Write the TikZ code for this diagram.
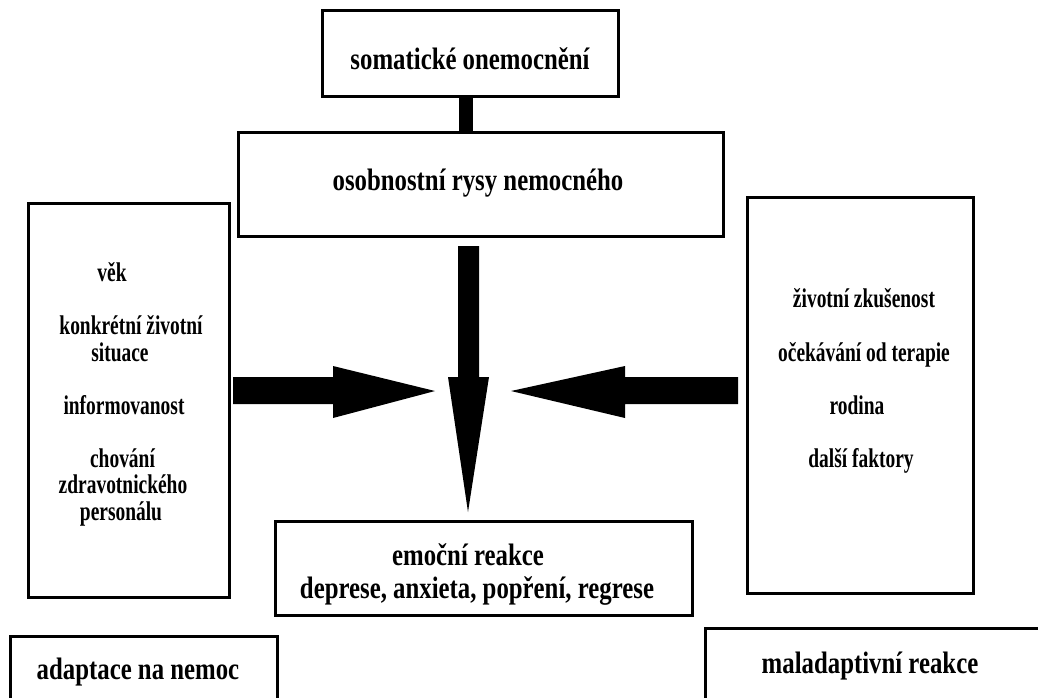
\documentclass[tikz,border=0pt]{standalone}
\usepackage{fontspec}
\newfontfamily\mainf{Liberation Serif}[FakeStretch=0.8]
\newfontfamily\sidef{Liberation Serif}[FakeStretch=0.72]
\begin{document}
\begin{tikzpicture}[x=1pt,y=-1pt,
  box/.style={draw, line width=3pt, inner sep=0pt},
  maintxt/.style={inner sep=0pt, anchor=base, font=\mainf\bfseries\fontsize{31}{34}\selectfont},
  sidetxt/.style={inner sep=0pt, anchor=base, font=\sidef\bfseries\fontsize{27}{27}\selectfont},
  fatarrow/.style={fill=black}]
\useasboundingbox (0,0) rectangle (1038,697);
\clip (0,0) rectangle (1038,697);
\fill[white] (0,0) rectangle (1038,697);

% boxes
\node[box, minimum width=296pt, minimum height=86pt] (som) at (470,53) {};
\node[maintxt] (somt) at (470,69) {somatické onemocnění};
\node[box, minimum width=485pt, minimum height=104pt] (osob) at (480.5,184) {};
\node[maintxt] (osobt) at (478,190) {osobnostní rysy nemocného};
\node[box, minimum width=201pt, minimum height=394pt] (left) at (128.5,400) {};
\node[box, minimum width=226pt, minimum height=396pt] (right) at (860,395) {};
\node[box, minimum width=417pt, minimum height=94pt] (emo) at (483.5,568) {};
\node[maintxt] (emot1) at (468,565) {emoční reakce};
\node[maintxt] (emot2) at (477,598) {deprese, anxieta, popření, regrese};
\node[box, minimum width=267pt, minimum height=90pt] (adapt) at (143.5,681) {};
\node[maintxt] (adaptt) at (138,679) {adaptace na nemoc};
\node[box, minimum width=365pt, minimum height=92pt] (mal) at (887.5,674) {};
\node[maintxt] (malt) at (870,673) {maladaptivní reakce};

% left box texts
\node[sidetxt] (l1) at (112,281) {věk};
\node[sidetxt] (l2) at (131,334) {konkrétní životní};
\node[sidetxt] (l3) at (120,361) {situace};
\node[sidetxt] (l4) at (124,414) {informovanost};
\node[sidetxt] (l5) at (122.5,467) {chování};
\node[sidetxt] (l6) at (123,493) {zdravotnického};
\node[sidetxt] (l7) at (121,520) {personálu};

% right box texts
\node[sidetxt] (r1) at (864,307) {životní zkušenost};
\node[sidetxt] (r2) at (864,361) {očekávání od terapie};
\node[sidetxt] (r3) at (857,414) {rodina};
\node[sidetxt] (r4) at (861,467) {další faktory};

% connector between top boxes
\draw[line width=14pt] ([xshift=-4pt]som.south) -- ([xshift=-4pt]som.south |- osob.north);

% fat arrows
\coordinate (tipR) at (435,391);
\coordinate (tipL) at (511,391);
\coordinate (tipD) at (468,512);
\fill[fatarrow] (233,377) -- (333,377) -- (333,366) -- (tipR) -- (333,418) -- (333,404) -- (233,404) -- cycle;
\fill[fatarrow] (738,377) -- (625,377) -- (625,366) -- (tipL) -- (625,418) -- (625,404) -- (738,404) -- cycle;
\fill[fatarrow] (458,246) -- (479,246) -- (479,377) -- (489,377) -- (tipD) -- (448,377) -- (458,377) -- cycle;
\end{tikzpicture}
\end{document}
